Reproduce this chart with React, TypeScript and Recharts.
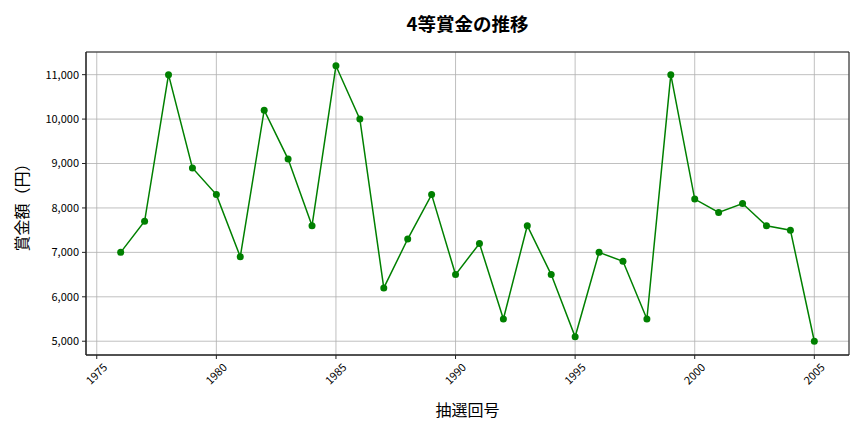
import {
  CartesianGrid,
  Label,
  Line,
  LineChart,
  ReferenceArea,
  XAxis,
  YAxis,
} from "recharts";

const years = [
  1976, 1977, 1978, 1979, 1980, 1981, 1982, 1983, 1984, 1985, 1986, 1987, 1988, 1989, 1990,
  1991, 1992, 1993, 1994, 1995, 1996, 1997, 1998, 1999, 2000, 2001, 2002, 2003, 2004, 2005,
];
const prizes = [
  7000, 7700, 11000, 8900, 8300, 6900, 10200, 9100, 7600, 11200, 10000, 6200, 7300, 8300, 6500,
  7200, 5500, 7600, 6500, 5100, 7000, 6800, 5500, 11000, 8200, 7900, 8100, 7600, 7500, 5000,
];
const xTicks = [1975, 1980, 1985, 1990, 1995, 2000, 2005];
const yTicks = [5000, 6000, 7000, 8000, 9000, 10000, 11000];

const data = years.map((year, i) => ({ year, prize: prizes[i] }));

const xDomain: [number, number] = [1974.55, 2006.45];
const yDomain: [number, number] = [4690, 11510];

const font = '"Noto Sans CJK JP", "Noto Sans", sans-serif';
const tickStyle = { fontSize: 11, fill: "#000", fontFamily: font };

// matplotlib-style rotated label: centred under the tick
function XTick(props: any) {
  const { x, y, payload } = props;
  return (
    <g transform={`translate(${x},${y + 13})`}>
      <text
        transform="rotate(-45)"
        textAnchor="middle"
        dy="0.35em"
        fontSize={11}
        fontFamily={font}
        fill="#000"
      >
        {payload.value}
      </text>
    </g>
  );
}

export default function App() {
  return (
    <div style={{ position: "absolute", left: 0, top: 0, width: 864, height: 432, background: "#fff" }}>
      <div
        style={{
          position: "absolute",
          left: 86,
          width: 763,
          top: 9,
          textAlign: "center",
          fontFamily: font,
          fontSize: 18.5,
          fontWeight: "bold",
          lineHeight: "28px",
          color: "#000",
        }}
      >
        4等賞金の推移
      </div>
      <LineChart
        width={864}
        height={432}
        data={data}
        margin={{ top: 52, right: 15, bottom: 15, left: 8 }}
      >
        <CartesianGrid stroke="#b0b0b0" strokeWidth={0.8} />
        <ReferenceArea
          x1={xDomain[0]}
          x2={xDomain[1]}
          y1={yDomain[0]}
          y2={yDomain[1]}
          fill="none"
          fillOpacity={0}
          stroke="#222"
          strokeWidth={1}
          ifOverflow="visible"
        />
        <XAxis
          dataKey="year"
          type="number"
          domain={xDomain}
          ticks={xTicks}
          interval={0}
          height={62}
          axisLine={{ stroke: "#222" }}
          tickLine={{ stroke: "#222" }}
          tickSize={4}
          tickMargin={2}
          tick={<XTick />}
        >
          <Label
            value="抽選回号"
            position="insideBottom"
            offset={1}
            style={{ fontSize: 16, fill: "#000", fontFamily: font }}
          />
        </XAxis>
        <YAxis
          type="number"
          domain={yDomain}
          ticks={yTicks}
          interval={0}
          width={78}
          axisLine={{ stroke: "#222" }}
          tickLine={{ stroke: "#222" }}
          tickSize={4}
          tickMargin={3}
          tick={tickStyle}
          tickFormatter={(v: number) => v.toLocaleString("en-US")}
        >
          <Label
            value="賞金額（円）"
            angle={-90}
            position="insideLeft"
            offset={14}
            style={{ fontSize: 16, fill: "#000", fontFamily: font, textAnchor: "middle" }}
          />
        </YAxis>
        <Line
          dataKey="prize"
          stroke="#008000"
          strokeWidth={1.5}
          dot={{ r: 3.5, fill: "#008000", stroke: "#008000", strokeWidth: 0 }}
          activeDot={false}
          isAnimationActive={false}
        />
      </LineChart>
    </div>
  );
}
